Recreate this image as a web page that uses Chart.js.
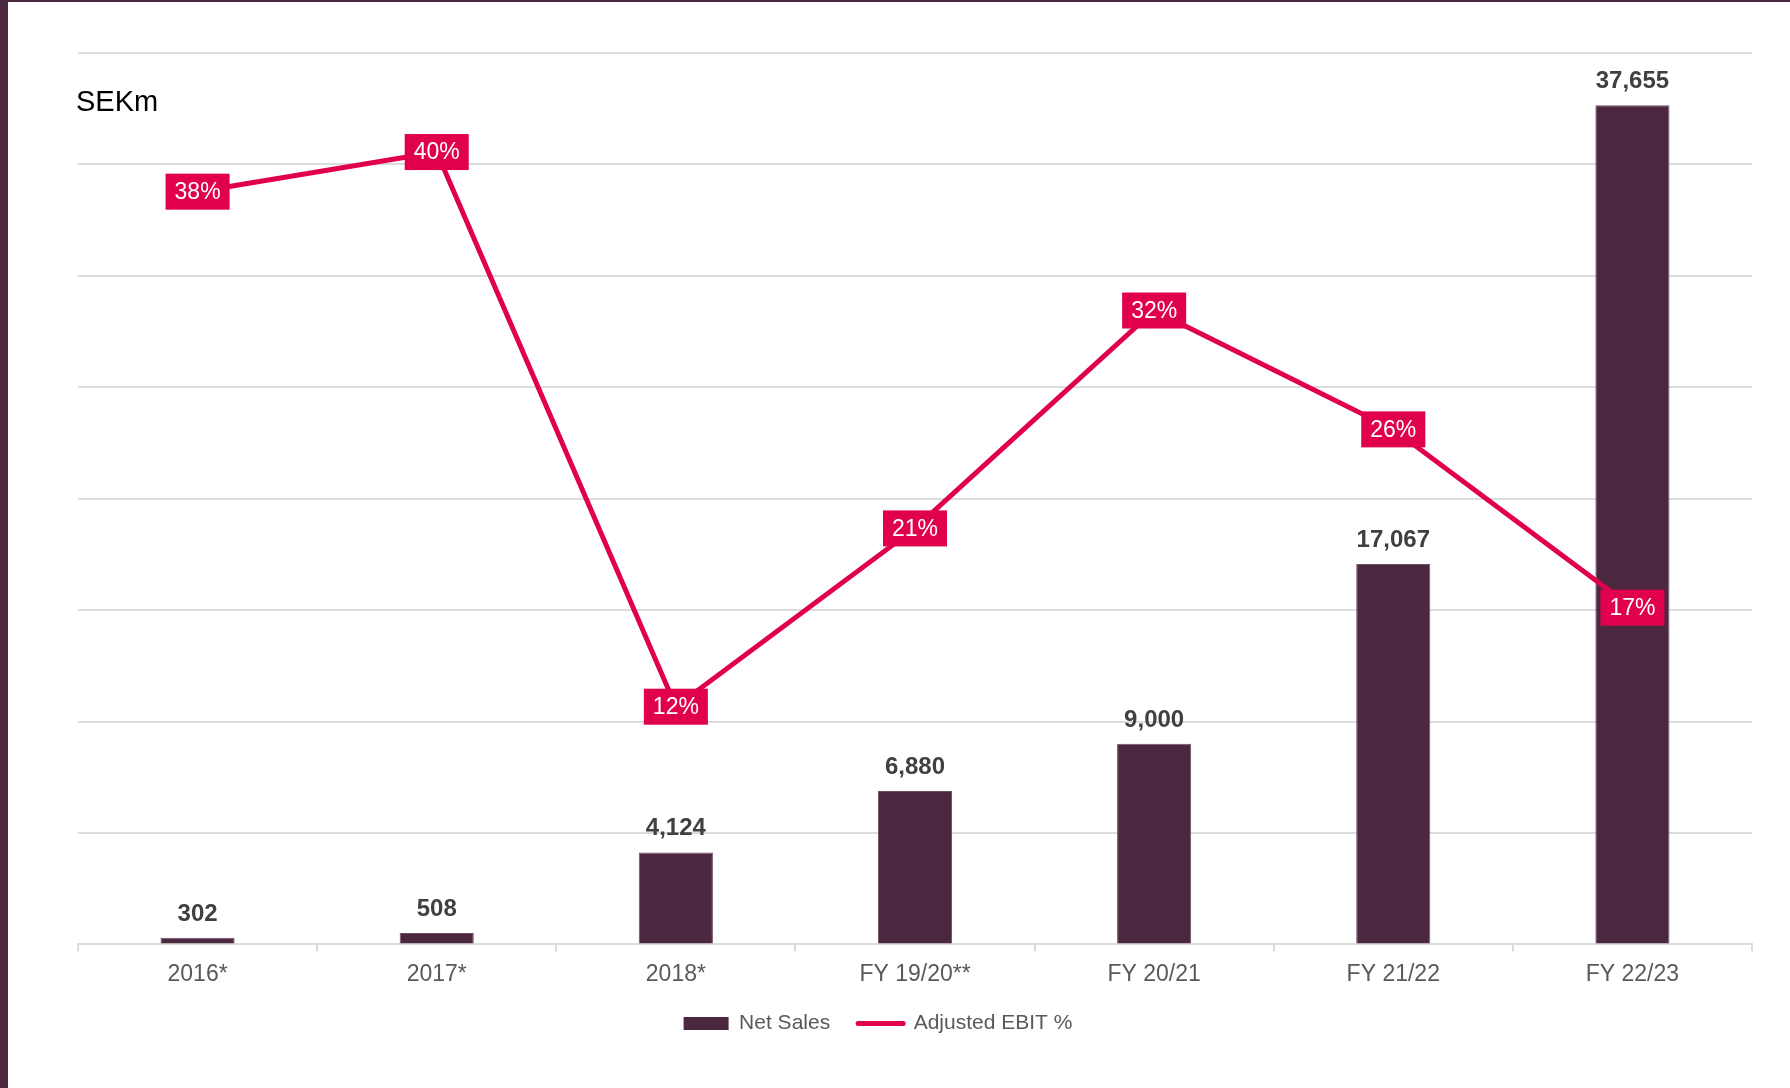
<!DOCTYPE html>
<html>
<head>
<meta charset="utf-8">
<script src="https://cdn.jsdelivr.net/npm/chart.js@4.4.1/dist/chart.umd.min.js"></script>
<style>
html, body { margin: 0; padding: 0; background: #fff; }
.frame {
  width: 1782px; height: 1086px;
  border-left: 8px solid #4b2840;
  border-top: 2px solid #4b2840;
  position: relative;
}
</style>
</head>
<body>
<div class="frame"><canvas id="salesChart" width="1782" height="1086"></canvas></div>
<script>
const categories = ["2016*", "2017*", "2018*", "FY 19/20**", "FY 20/21", "FY 21/22", "FY 22/23"];
const netSales = [302, 508, 4124, 6880, 9000, 17067, 37655];
const ebitPct = [38, 40, 12, 21, 32, 26, 17];

const FONT = "'Liberation Sans', Arial, sans-serif";
const PLUM = "#4b2840";
const PINK = "#e0004d";
const GRID = "#dcdcdc";

// value labels, pink boxes and the SEKm unit
const labelPlugin = {
  id: "labels",
  afterLayout(chart) {
    // legend sits a bit left of centre and closer to the axis in the original
    chart.legend.left -= 37;
    chart.legend.right -= 37;
    chart.legend.top -= 12;
    chart.legend.bottom -= 12;
  },
  afterDatasetsDraw(chart) {
    const ctx = chart.ctx;
    ctx.save();

    const bars = chart.getDatasetMeta(0).data;
    ctx.font = "bold 24px " + FONT;
    ctx.fillStyle = "#404040";
    ctx.textAlign = "center";
    ctx.textBaseline = "alphabetic";
    bars.forEach((b, i) => {
      ctx.fillText(netSales[i].toLocaleString("en-US"), b.x, b.y - 17);
    });

    const pts = chart.getDatasetMeta(1).data;
    ctx.font = "23px " + FONT;
    ctx.textBaseline = "middle";
    pts.forEach((p, i) => {
      const txt = ebitPct[i] + "%";
      const w = ctx.measureText(txt).width + 18;
      const h = 36;
      ctx.fillStyle = PINK;
      ctx.fillRect(p.x - w / 2, p.y - h / 2, w, h);
      ctx.fillStyle = "#fff";
      ctx.fillText(txt, p.x, p.y + 1);
    });

    ctx.font = "29px " + FONT;
    ctx.fillStyle = "#000";
    ctx.textAlign = "left";
    ctx.fillText("SEKm", chart.chartArea.left - 2, 101);
    ctx.restore();
  }
};

new Chart(document.getElementById("salesChart").getContext("2d"), {
  type: "bar",
  data: {
    labels: categories,
    datasets: [{
      label: "Net Sales",
      data: netSales,
      backgroundColor: PLUM,
      borderColor: "#6d5065",
      borderWidth: 1,
      categoryPercentage: 1,
      barPercentage: 0.31,
      yAxisID: "y",
      order: 2
    }, {
      type: "line",
      label: "Adjusted EBIT %",
      data: ebitPct,
      borderColor: PINK,
      backgroundColor: PINK,
      borderWidth: 5,
      pointRadius: 0,
      tension: 0,
      yAxisID: "y1",
      order: 1
    }]
  },
  options: {
    responsive: false,
    animation: false,
    layout: {
      padding: { left: 70, right: 38, top: 51, bottom: 32 }
    },
    plugins: {
      tooltip: { enabled: false },
      legend: {
        position: "bottom",
        labels: {
          usePointStyle: true,
          pointStyleWidth: 45,
          boxHeight: 13,
          padding: 28,
          color: "#595959",
          font: { family: FONT, size: 21 },
          generateLabels(chart) {
            return chart.data.datasets.map((ds, i) => ({
              text: ds.label,
              datasetIndex: i,
              fillStyle: ds.type === "line" ? PINK : PLUM,
              strokeStyle: ds.type === "line" ? PINK : PLUM,
              lineWidth: ds.type === "line" ? 5 : 0,
              lineCap: "round",
              pointStyle: ds.type === "line" ? "line" : "rect",
              fontColor: "#595959"
            }));
          }
        }
      }
    },
    scales: {
      x: {
        offset: true,
        grid: {
          display: true,
          offset: true,
          drawOnChartArea: false,
          drawTicks: true,
          tickLength: 7,
          color: GRID,
          lineWidth: 2
        },
        border: { display: true, color: GRID, width: 2 },
        ticks: {
          color: "#595959",
          padding: 9,
          font: { family: FONT, size: 23 }
        }
      },
      y: {
        position: "left",
        min: 0,
        max: 40000,
        ticks: { stepSize: 5000, display: false },
        grid: { color: GRID, lineWidth: 2, drawTicks: false },
        border: { display: false }
      },
      y1: {
        display: false,
        min: 0,
        max: 45
      }
    }
  },
  plugins: [labelPlugin]
});
</script>
</body>
</html>
